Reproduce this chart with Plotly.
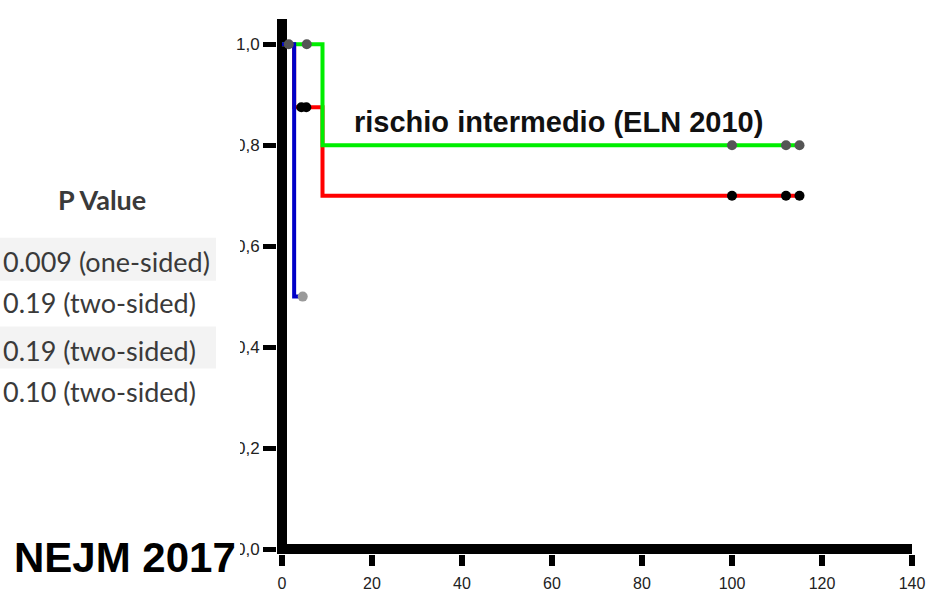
import plotly.graph_objects as go

# Kaplan-Meier step curves (time, survival)
green_time = [0, 9, 115]
green_surv = [1.0, 0.8, 0.8]
green_cens_time = [1.5, 5.5, 100, 112, 115]
green_cens_surv = [1.0, 1.0, 0.8, 0.8, 0.8]

red_time = [0, 2.7, 9, 115]
red_surv = [1.0, 0.875, 0.7, 0.7]
red_cens_time = [4.3, 5.4, 100, 112, 115]
red_cens_surv = [0.875, 0.875, 0.7, 0.7, 0.7]

blue_time = [0, 2.7, 4.6]
blue_surv = [1.0, 0.5, 0.5]
blue_cens_time = [4.6]
blue_cens_surv = [0.5]

# Axis ticks
x_ticks = [0, 20, 40, 60, 80, 100, 120, 140]
y_ticks = [0.0, 0.2, 0.4, 0.6, 0.8, 1.0]
y_tick_labels = ["0,0", "0,2", "0,4", "0,6", "0,8", "1,0"]

# P value table
p_header = "P Value"
p_rows = ["0.009 (one-sided)", "0.19 (two-sided)", "0.19 (two-sided)", "0.10 (two-sided)"]

W, H = 929, 592
ML, MR, MT, MB = 277, 17, 19.25, 37.5
PW = W - ML - MR
PH = H - MT - MB


def px(xp):
    return (xp - ML) / PW


def py(yp):
    return (H - MB - yp) / PH


fig = go.Figure()

curves = [
    (red_time, red_surv, "#ff0000"),
    (green_time, green_surv, "#00ee00"),
    (blue_time, blue_surv, "#0000c8"),
]
for t, s, c in curves:
    fig.add_trace(go.Scatter(x=t, y=s, mode="lines", line=dict(color=c, width=4, shape="hv"),
                             hoverinfo="skip", showlegend=False))

censors = [
    (red_cens_time, red_cens_surv, "#000000"),
    (green_cens_time, green_cens_surv, "#555555"),
    (blue_cens_time, blue_cens_surv, "#9a9a9a"),
]
for t, s, c in censors:
    fig.add_trace(go.Scatter(x=t, y=s, mode="markers", marker=dict(color=c, size=10, line=dict(width=0)),
                             hoverinfo="skip", showlegend=False, cliponaxis=False))

shapes = [
    # white panel behind the P value table
    dict(type="rect", xref="paper", yref="paper", x0=px(-5), x1=px(240), y0=py(100), y1=py(575),
         fillcolor="white", line=dict(width=0), layer="above"),
    dict(type="rect", xref="paper", yref="paper", x0=px(-5), x1=px(216), y0=py(238), y1=py(281),
         fillcolor="#f3f3f3", line=dict(width=0), layer="above"),
    dict(type="rect", xref="paper", yref="paper", x0=px(-5), x1=px(216), y0=py(327), y1=py(369),
         fillcolor="#f3f3f3", line=dict(width=0), layer="above"),
]

annotations = [
    dict(text="rischio intermedio (ELN 2010)", xref="paper", yref="paper", x=px(558), y=py(122),
         xanchor="center", yanchor="middle", showarrow=False,
         font=dict(family="Liberation Sans, Arial", size=29, color="#111111", weight="bold")),
    dict(text="NEJM 2017", xref="paper", yref="paper", x=px(125), y=py(558),
         xanchor="center", yanchor="middle", showarrow=False,
         font=dict(family="Liberation Sans, Arial", size=42, color="#000000", weight="bold")),
    dict(text=p_header, xref="paper", yref="paper", x=px(102), y=py(200),
         xanchor="center", yanchor="middle", showarrow=False,
         font=dict(family="Lato", size=27, color="#3a3a3a", weight="bold")),
]
row_y = [262, 303, 351, 392]
for txt, yy in zip(p_rows, row_y):
    annotations.append(dict(text=txt, xref="paper", yref="paper", x=px(1), y=py(yy),
                            xanchor="left", yanchor="middle", showarrow=False,
                            font=dict(family="Lato", size=27, color="#3a3a3a")))

fig.update_layout(
    width=W, height=H,
    margin=dict(l=ML, r=MR, t=MT, b=MB, pad=0, autoexpand=False),
    paper_bgcolor="white", plot_bgcolor="white",
    shapes=shapes, annotations=annotations,
    hovermode=False,
    xaxis=dict(range=[-5 / 4.5, 140], tickvals=x_ticks, ticks="outside", ticklen=11, tickwidth=6,
               tickcolor="black", showline=False, showgrid=False, automargin=False,
               ticklabelstandoff=4,
               zeroline=True, zerolinecolor="black", zerolinewidth=10,
               tickfont=dict(family="Liberation Sans, Arial", size=16, color="#222222")),
    yaxis=dict(range=[-5 / 505, 1.05], tickvals=y_ticks, ticktext=y_tick_labels, ticks="outside",
               ticklen=13, tickwidth=5, tickcolor="black", showline=False, showgrid=False,
               automargin=False,
               zeroline=True, zerolinecolor="black", zerolinewidth=10,
               tickfont=dict(family="Liberation Sans, Arial", size=17, color="#222222")),
)

fig.write_html("out.html")
